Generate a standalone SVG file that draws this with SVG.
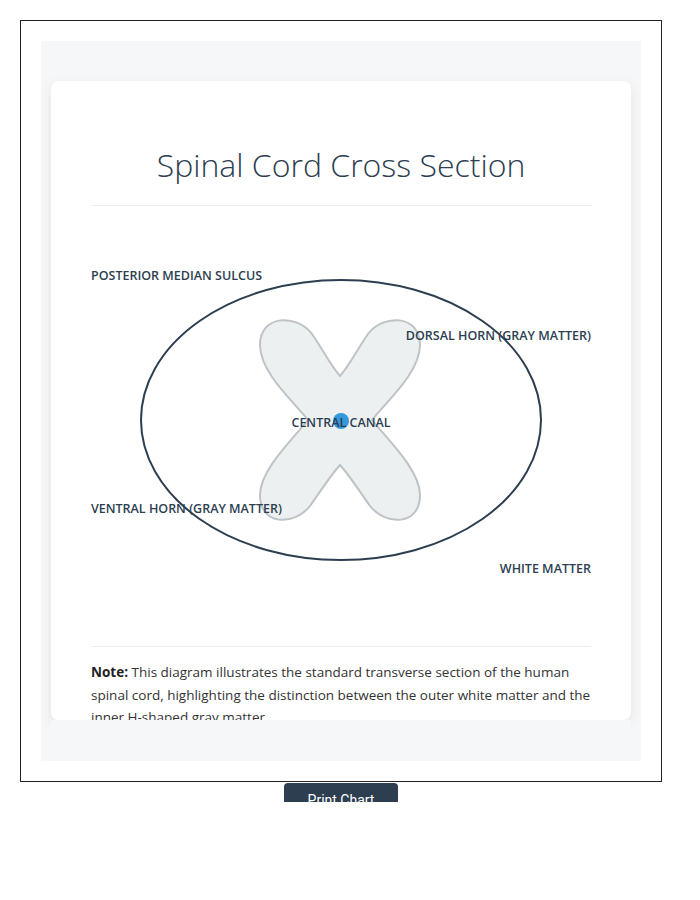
<svg xmlns="http://www.w3.org/2000/svg" width="700" height="900" viewBox="0 0 700 900">
<defs><filter id="sh" x="-10%" y="-10%" width="120%" height="120%"><feDropShadow dx="0" dy="4" stdDeviation="6" flood-color="#000" flood-opacity="0.08"/></filter></defs>
<style>
.lbl{font-family:"Open Sans","Noto Sans",sans-serif;font-size:12.5px;font-weight:600;fill:#2c3e50}
.note{font-family:"Open Sans","Noto Sans",sans-serif;font-size:13.5px;fill:#333}
</style>
<rect width="700" height="900" fill="#fff"/>
<rect x="20.5" y="20.5" width="641" height="761" fill="none" stroke="#222"/>
<rect x="41" y="41" width="600" height="720" fill="#f5f7f9"/>
<rect x="51" y="81" width="580" height="639" rx="8" fill="#fff" filter="url(#sh)"/>
<text x="341" y="177" text-anchor="middle" font-family="Open Sans,sans-serif" font-weight="300" font-size="32" fill="#2c3e50">Spinal Cord Cross Section</text>
<line x1="91" y1="205.5" x2="591" y2="205.5" stroke="#eee"/>
<g id="white-matter"><ellipse cx="341" cy="420" rx="200" ry="140" fill="none" stroke="#2c3e50" stroke-width="2"/></g>
<g id="gray-matter"><path d="M340,376 C350,365 358,348 368,334 C383,314 420,314 420,345 C420,372 388,400 372,420 C388,440 420,470 420,495 C420,526 386,526 370,506 C360,492 350,476 340,465 C330,476 320,492 310,506 C294,526 260,526 260,495 C260,470 292,440 308,420 C292,400 260,372 260,345 C260,314 297,314 312,334 C322,348 330,365 340,376 Z" fill="#ecf0f1" stroke="#bdc3c7" stroke-width="2"/></g>
<g id="central-canal"><circle cx="341" cy="421" r="8" fill="#3498db"/></g>
<g id="labels">
<text class="lbl" x="91" y="280">POSTERIOR MEDIAN SULCUS</text>
<text class="lbl" x="591" y="340" text-anchor="end">DORSAL HORN (GRAY MATTER)</text>
<text class="lbl" x="341" y="427" text-anchor="middle">CENTRAL CANAL</text>
<text class="lbl" x="91" y="513">VENTRAL HORN (GRAY MATTER)</text>
<text class="lbl" x="591" y="573" text-anchor="end">WHITE MATTER</text>
</g>
<line x1="91" y1="646.5" x2="591" y2="646.5" stroke="#eee"/>
<text class="note" x="91" y="677"><tspan font-weight="700" fill="#222">Note:</tspan> This diagram illustrates the standard transverse section of the human</text>
<text class="note" x="91" y="700">spinal cord, highlighting the distinction between the outer white matter and the</text>
<text class="note" x="91" y="722">inner H-shaped gray matter.</text>
<rect x="51" y="720" width="580" height="41" fill="#f5f7f9"/>
<svg x="284" y="783" width="114" height="19"><rect width="114" height="30" rx="4" fill="#2c3e50"/><text x="57" y="22" text-anchor="middle" font-family="Roboto,sans-serif" font-size="14" fill="#fff">Print Chart</text></svg>
</svg>
